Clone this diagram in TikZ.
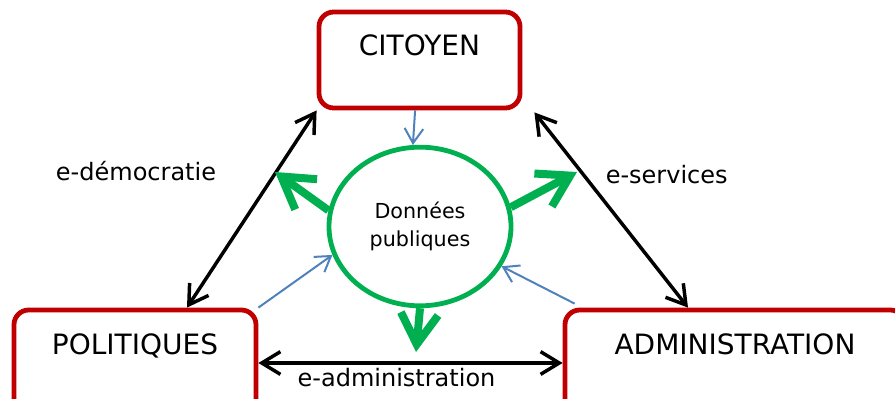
\documentclass[tikz,border=0pt]{standalone}
\usepackage{fontspec}
\setmainfont{DejaVu Sans}
\usetikzlibrary{arrows.meta,shapes.geometric,calc}

\begin{document}
\begin{tikzpicture}[x=0.75pt,y=0.75pt,yscale=-1,xscale=1,
    acteur/.style={draw={rgb, 255:red, 192; green, 0; blue, 0}, line width=3.6pt, rounded corners=11pt, inner sep=0pt, text height=33pt, font=\fontsize{21}{25}\selectfont},
    donnees/.style={ellipse, draw={rgb, 255:red, 0; green, 176; blue, 80}, line width=3.6pt, minimum width=136.5pt, minimum height=119pt, inner sep=0pt, align=center, font=\fontsize{15.5}{21}\selectfont},
    domaine/.style={inner sep=0pt, anchor=base, font=\fontsize{18}{22}\selectfont},
    echange/.style={line width=2.6pt, {Straight Barb[length=14pt,width=17pt]}-{Straight Barb[length=14pt,width=17pt]}},
    diffusion/.style={line width=6pt, color={rgb, 255:red, 0; green, 176; blue, 80}, -{Straight Barb[length=23pt,width=28pt]}},
    collecte/.style={line width=1.5pt, color={rgb, 255:red, 79; green, 129; blue, 189}, -{Straight Barb[length=11pt,width=14pt]}}]
    \useasboundingbox (0,0) rectangle (895,399);

    %Shape: Rounded Rectangle
    \node[acteur, minimum width=150.75pt, text depth=39pt] (citoyen) at (419.5,60) {CITOYEN};
    \node[acteur, minimum width=181.5pt, text depth=46.5pt] (politiques) at (135,363) {POLITIQUES};
    \node[acteur, minimum width=255pt, text depth=46.5pt] (administration) at (735,363) {ADMINISTRATION};
    %Shape: Ellipse
    \node[donnees] (publiques) at (420,226.5) {Données\\publiques};

    %Text
    \node[domaine] (edemocratie) at (136,180.7) {e-démocratie};
    \node[domaine] (eservices) at (666.7,183.3) {e-services};
    \node[domaine] (eadministration) at (396.5,386) {e-administration};

    \coordinate (versgauche) at (275,172);
    \coordinate (versdroite) at (577,172);
    \coordinate (versbas) at (416,352);

    %Straight Lines
    \draw[echange] (citoyen.south west) -- ($(politiques.north)+(52,0)$);
    \draw[echange] ($(citoyen.south east)+(12,2)$) -- ($(administration.north)+(-47,0)$);
    \draw[echange] (politiques.east) -- (administration.west);

    \draw[diffusion] (publiques.170) -- (versgauche);
    \draw[diffusion] (publiques.12) -- (versdroite);
    \draw[diffusion] (publiques.south) -- (versbas);

    \draw[collecte] (citoyen.265) -- (publiques.95);
    \draw[collecte] (politiques.north east) -- (publiques.198);
    \draw[collecte] ($(administration.north west)+(12,-4)$) -- (publiques.-26);

\end{tikzpicture}
\end{document}
